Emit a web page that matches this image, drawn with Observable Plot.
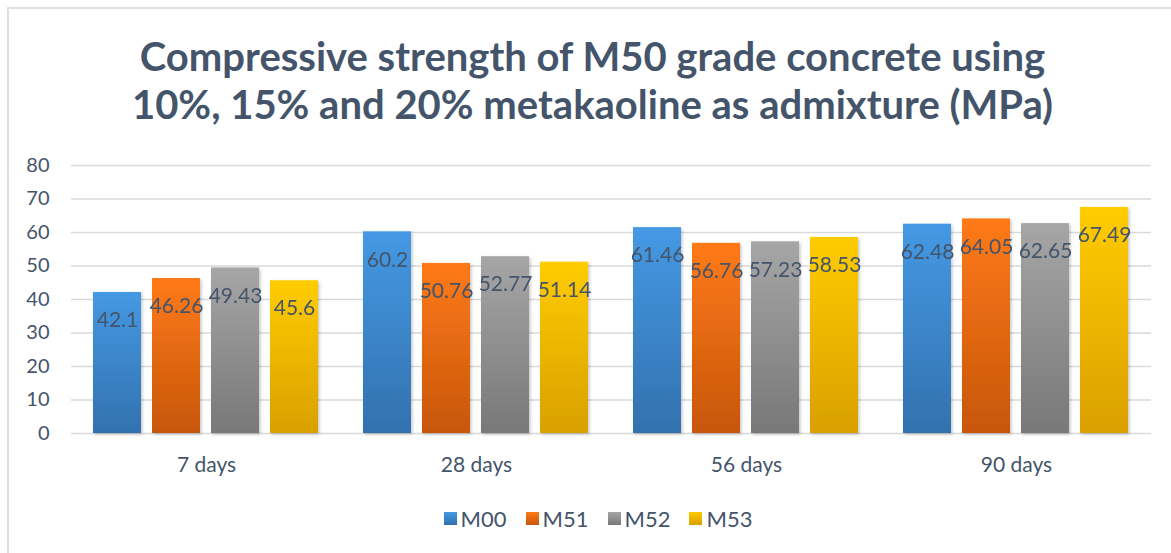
<!DOCTYPE html>
<html>
<head>
<meta charset="utf-8">
<script src="https://cdn.jsdelivr.net/npm/d3@7"></script>
<script src="https://cdn.jsdelivr.net/npm/@observablehq/plot@0.6"></script>
<style>
  html, body { margin: 0; padding: 0; background: #fff; }
  body { width: 1171px; height: 553px; overflow: hidden; position: relative; font-family: Lato, "Open Sans", sans-serif; }
  #frame { position: absolute; left: 7px; top: 7px; width: 1170px; height: 560px; border-left: 2px solid #DDE2E8; border-top: 2px solid #DDE2E8; }
  #title { position: absolute; left: 0; top: 32px; width: 1185px; text-align: center; font-weight: 700; font-size: 40px; line-height: 48px; color: #44546A; }
  #chart { position: absolute; left: 0; top: 150px; }
  #legend { position: absolute; top: 505px; left: 0; width: 1196px; display: flex; justify-content: center; gap: 19px; font-size: 22px; color: #44546A; }
  .item { display: flex; align-items: center; gap: 4px; }
  .sw { width: 13px; height: 13px; display: inline-block; }
</style>
</head>
<body>
<div id="frame"></div>
<div id="title">Compressive strength of M50 grade concrete using<br>10%, 15% and 20% metakaoline as admixture (MPa)</div>
<div id="chart"></div>
<div id="legend"></div>
<script>
const ages = ["7 days", "28 days", "56 days", "90 days"];
const mixes = ["M00", "M51", "M52", "M53"];
const M00 = [42.1, 60.2, 61.46, 62.48];
const M51 = [46.26, 50.76, 56.76, 64.05];
const M52 = [49.43, 52.77, 57.23, 62.65];
const M53 = [45.6, 51.14, 58.53, 67.49];
const yTicks = [0, 10, 20, 30, 40, 50, 60, 70, 80];
const gradTop = ["#4599E4", "#FF7A14", "#A6A6A6", "#FFCC00"];
const gradBottom = ["#3271AE", "#C7560F", "#787878", "#D9A000"];

const series = [M00, M51, M52, M53];
const data = [];
ages.forEach((a, i) => mixes.forEach((m, j) => data.push({age: a, mix: m, value: series[j][i]})));

const ink = "#44546A";
const plot = Plot.plot({
  width: 1171,
  height: 333,
  marginLeft: 70,
  marginRight: 19,
  marginTop: 15,
  marginBottom: 50,
  style: {fontFamily: "Lato, 'Open Sans', sans-serif", background: "transparent"},
  fx: {domain: ages, padding: 0, label: null},
  x: {domain: mixes, paddingInner: 0.186, paddingOuter: 0.381, axis: null},
  y: {domain: [0, 80], ticks: yTicks, label: null},
  color: {domain: mixes, range: mixes.map(m => `url(#g-${m})`)},
  marks: [
    Plot.gridY(yTicks, {stroke: "#D9D9D9", strokeOpacity: 1, strokeWidth: 1.5}),
    Plot.axisY({ticks: yTicks, tickSize: 0, tickPadding: 22, fontSize: 20, fill: ink, label: null}),
    Plot.axisFx({anchor: "bottom", tickSize: 0, tickPadding: 24, fontSize: 21, fill: ink, label: null}),
    Plot.barY(data, {fx: "age", x: "mix", y: "value", fill: "mix"}),
    Plot.text(data, {fx: "age", x: "mix", y: "value", text: d => String(d.value), dy: 28, fontSize: 21, fill: ink})
  ]
});

// gradient + shadow definitions
const ns = "http://www.w3.org/2000/svg";
const defs = document.createElementNS(ns, "defs");
mixes.forEach((m, i) => {
  const g = document.createElementNS(ns, "linearGradient");
  g.setAttribute("id", `g-${m}`);
  g.setAttribute("x1", "0"); g.setAttribute("y1", "0"); g.setAttribute("x2", "0"); g.setAttribute("y2", "1");
  [[0, gradTop[i]], [1, gradBottom[i]]].forEach(([o, c]) => {
    const s = document.createElementNS(ns, "stop");
    s.setAttribute("offset", o); s.setAttribute("stop-color", c);
    g.appendChild(s);
  });
  defs.appendChild(g);
});
const f = document.createElementNS(ns, "filter");
f.setAttribute("id", "shadow");
f.setAttribute("x", "-20%"); f.setAttribute("y", "-5%"); f.setAttribute("width", "140%"); f.setAttribute("height", "115%");
const ds = document.createElementNS(ns, "feDropShadow");
ds.setAttribute("dx", "1.5"); ds.setAttribute("dy", "1.5"); ds.setAttribute("stdDeviation", "1.5");
ds.setAttribute("flood-color", "#000"); ds.setAttribute("flood-opacity", "0.22");
f.appendChild(ds);
defs.appendChild(f);
plot.insertBefore(defs, plot.firstChild);
plot.querySelectorAll('g[aria-label="bar"]').forEach(g => g.setAttribute("filter", "url(#shadow)"));
document.getElementById("chart").appendChild(plot);

// legend
const leg = document.getElementById("legend");
mixes.forEach((m, i) => {
  const it = document.createElement("div");
  it.className = "item";
  it.innerHTML = `<span class="sw" style="background:linear-gradient(${gradTop[i]},${gradBottom[i]})"></span><span>${m}</span>`;
  leg.appendChild(it);
});
</script>
</body>
</html>
